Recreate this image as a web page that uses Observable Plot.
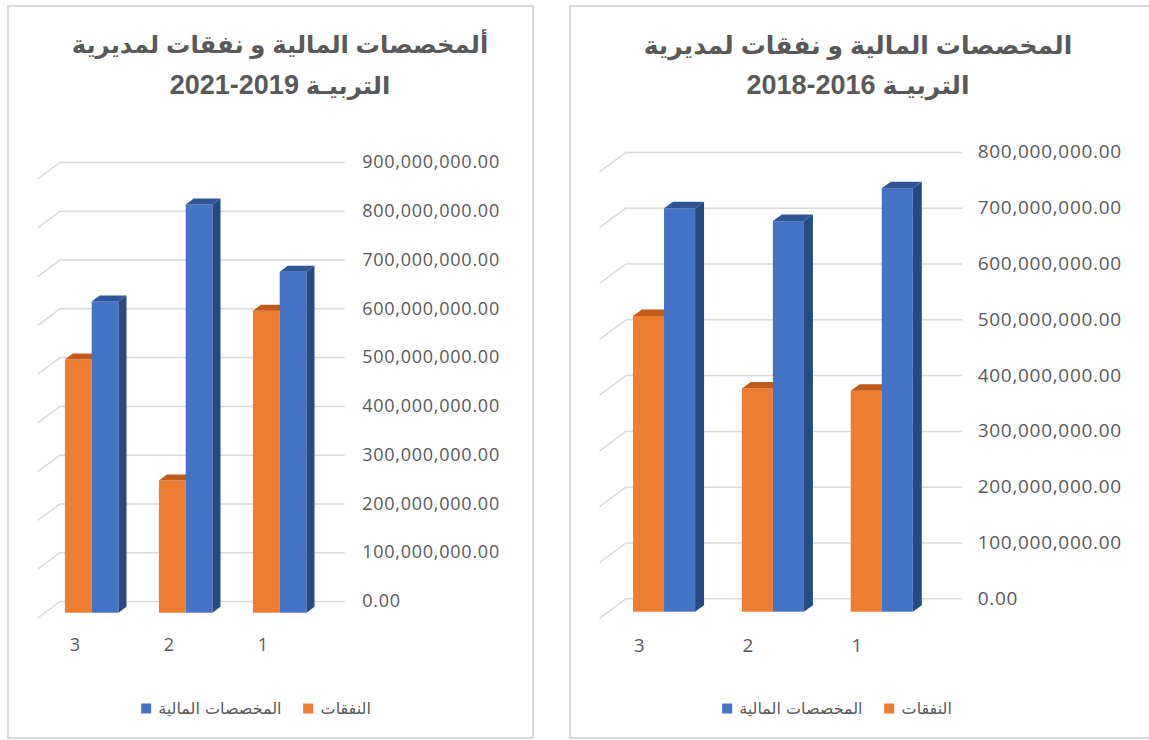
<!DOCTYPE html>
<html lang="ar">
<head>
<meta charset="utf-8">
<script src="https://cdn.jsdelivr.net/npm/d3@7"></script>
<script src="https://cdn.jsdelivr.net/npm/@observablehq/plot@0.6"></script>
<style>
  html, body { margin: 0; padding: 0; background: #fff; }
  body { width: 1149px; height: 740px; position: relative; overflow: hidden; }
  .panel { position: absolute; box-sizing: border-box; border: 2px solid #d9d9d9; background: #fff; }
  .title { position: absolute; transform: translateX(-50%); direction: rtl; text-align: center; white-space: nowrap;
           font-family: "Liberation Sans", "DejaVu Sans", sans-serif; font-weight: bold; color: #595959; font-size: 25px; line-height: 40px; }
  .title .num { font-size: 27px; letter-spacing: 2.5px; }
  .chart { position: absolute; }
  .legend { position: absolute; transform: translate(-50%, -50%); direction: rtl; display: flex; align-items: center; gap: 22px;
            font-family: "DejaVu Sans", sans-serif; font-size: 16px; color: #595959; white-space: nowrap; }
  .item { display: flex; align-items: center; gap: 7px; }
  .sw { width: 10px; height: 10px; display: inline-block; }
</style>
</head>
<body>
<div class="panel" style="left:7px; top:5px; width:527px; height:734px;"></div>
<div class="panel" style="left:569px; top:5px; width:600px; height:734px;"></div>

<div class="title" style="left:280px; top:25px; font-size:24.3px;">ألمخصصات المالية و نفقات لمديرية<br>التربيـة <span class="num">2019-2021</span></div>
<div class="title" style="left:858px; top:25px;">المخصصات المالية و نفقات لمديرية<br>التربيـة <span class="num">2016-2018</span></div>

<div id="chartLeft" class="chart" style="left:9px; top:130px;"></div>
<div id="chartRight" class="chart" style="left:571px; top:130px;"></div>

<div id="legendLeft" class="legend" style="left:256px; top:708px;"></div>
<div id="legendRight" class="legend" style="left:837px; top:708px;"></div>

<script>
// ---- data ----
const categories = ["3", "2", "1"];
const seriesNames = ["النفقات", "المخصصات المالية"];
const seriesColors = ["#ED7D31", "#4472C4"];

const expenses2019_2021 = [519e6, 271e6, 619e6];
const allocations2019_2021 = [638e6, 837e6, 699e6];
const ticks2019_2021 = [0, 100e6, 200e6, 300e6, 400e6, 500e6, 600e6, 700e6, 800e6, 900e6];

const expenses2016_2018 = [530e6, 400e6, 396e6];
const allocations2016_2018 = [723e6, 700e6, 759e6];
const ticks2016_2018 = [0, 100e6, 200e6, 300e6, 400e6, 500e6, 600e6, 700e6, 800e6];

const fmt = d3.format(",.2f");

function chart(cfg) {
  const barW = 0.285;
  const orange = categories.map((c, i) => ({cat: c, x1: i - barW, x2: i, value: cfg.expenses[i]}));
  const blue = categories.map((c, i) => ({cat: c, x1: i, x2: i + barW, value: cfg.allocations[i]}));

  const faces = (data, topFill, sideFill) => (index, scales) => {
    const g = d3.create("svg:g");
    for (const r of data) {
      const x1 = scales.x(r.x1), x2 = scales.x(r.x2), yt = scales.y(r.value), yb = scales.y(0);
      const dx = cfg.depth.dx, dy = cfg.depth.dy;
      g.append("path")
        .attr("d", `M${x1},${yt}L${x1 + dx},${yt - dy}L${x2 + dx},${yt - dy}L${x2},${yt}Z`)
        .attr("fill", topFill);
      if (sideFill) {
        g.append("path")
          .attr("d", `M${x2},${yt}L${x2 + dx},${yt - dy}L${x2 + dx},${yb - dy}L${x2},${yb}Z`)
          .attr("fill", sideFill);
      }
    }
    return g.node();
  };

  const diagonals = (index, scales) => {
    const g = d3.create("svg:g");
    const x0 = scales.x(-0.5);
    for (const t of cfg.ticks) {
      const y = scales.y(t) - cfg.wall.dy;
      g.append("line")
        .attr("x1", x0 + cfg.wall.dx).attr("y1", y)
        .attr("x2", x0 + cfg.wall.dx - cfg.floor.dx).attr("y2", y + cfg.floor.dy)
        .attr("stroke", "#d9d9d9").attr("stroke-width", 1.5);
    }
    return g.node();
  };

  return Plot.plot({
    width: cfg.width,
    height: cfg.height,
    marginLeft: cfg.margin[3], marginRight: cfg.margin[1], marginTop: cfg.margin[0], marginBottom: cfg.margin[2],
    style: {fontFamily: "'Open Sans', sans-serif", background: "transparent", overflow: "visible", letterSpacing: cfg.letterSpacing},
    x: {type: "linear", domain: [-0.5, 2.5], axis: null},
    y: {domain: [0, cfg.yMax]},
    marks: [
      Plot.ruleY(cfg.ticks, {stroke: "#d9d9d9", strokeWidth: 1.5, dx: cfg.wall.dx, dy: -cfg.wall.dy, insetRight: cfg.ruleExtend}),
      diagonals,
      Plot.rect(orange, {x1: "x1", x2: "x2", y1: 0, y2: "value", fill: seriesColors[0], inset: 0}),
      faces(orange, "#C05A18", null),
      Plot.rect(blue, {x1: "x1", x2: "x2", y1: 0, y2: "value", fill: seriesColors[1], inset: 0}),
      faces(blue, "#2F5597", "#284A84"),
      Plot.axisY(cfg.ticks, {anchor: "right", tickSize: 0, tickPadding: cfg.labelPad, dy: -cfg.wall.dy,
        tickFormat: fmt, textAnchor: "start", fontSize: cfg.fontSize, fill: "#595959", label: null}),
      Plot.text(categories, {x: (d, i) => i, y: 0, dx: cfg.catDx, dy: cfg.catDy, text: d => d,
        fontSize: cfg.fontSize, fill: "#595959"})
    ]
  });
}

document.getElementById("chartLeft").append(chart({
  expenses: expenses2019_2021, allocations: allocations2019_2021, ticks: ticks2019_2021, yMax: 900e6,
  width: 520, height: 530, margin: [43.7, 202.3, 47.3, 35.7],
  wall: {dx: 16, dy: 11.7}, depth: {dx: 8, dy: 6}, floor: {dx: 23, dy: 17},
  labelPad: 35, ruleExtend: -2, catDx: -17, catDy: 32, fontSize: 18, letterSpacing: "0.75px"
}));

document.getElementById("chartRight").append(chart({
  expenses: expenses2016_2018, allocations: allocations2016_2018, ticks: ticks2016_2018, yMax: 800e6,
  width: 578, height: 530, margin: [35.3, 212.8, 48.3, 38.6],
  wall: {dx: 17, dy: 13.4}, depth: {dx: 9, dy: 6.5}, floor: {dx: 27, dy: 20},
  labelPad: 41, ruleExtend: -9, catDx: -25, catDy: 34, fontSize: 19, letterSpacing: "0.7px"
}));

function legend(id) {
  const el = document.getElementById(id);
  seriesNames.forEach((name, i) => {
    const item = document.createElement("div");
    item.className = "item";
    const t = document.createElement("span");
    t.textContent = name;
    const s = document.createElement("span");
    s.className = "sw";
    s.style.background = seriesColors[i];
    item.append(t, s);
    el.append(item);
  });
}
legend("legendLeft");
legend("legendRight");
</script>
</body>
</html>
